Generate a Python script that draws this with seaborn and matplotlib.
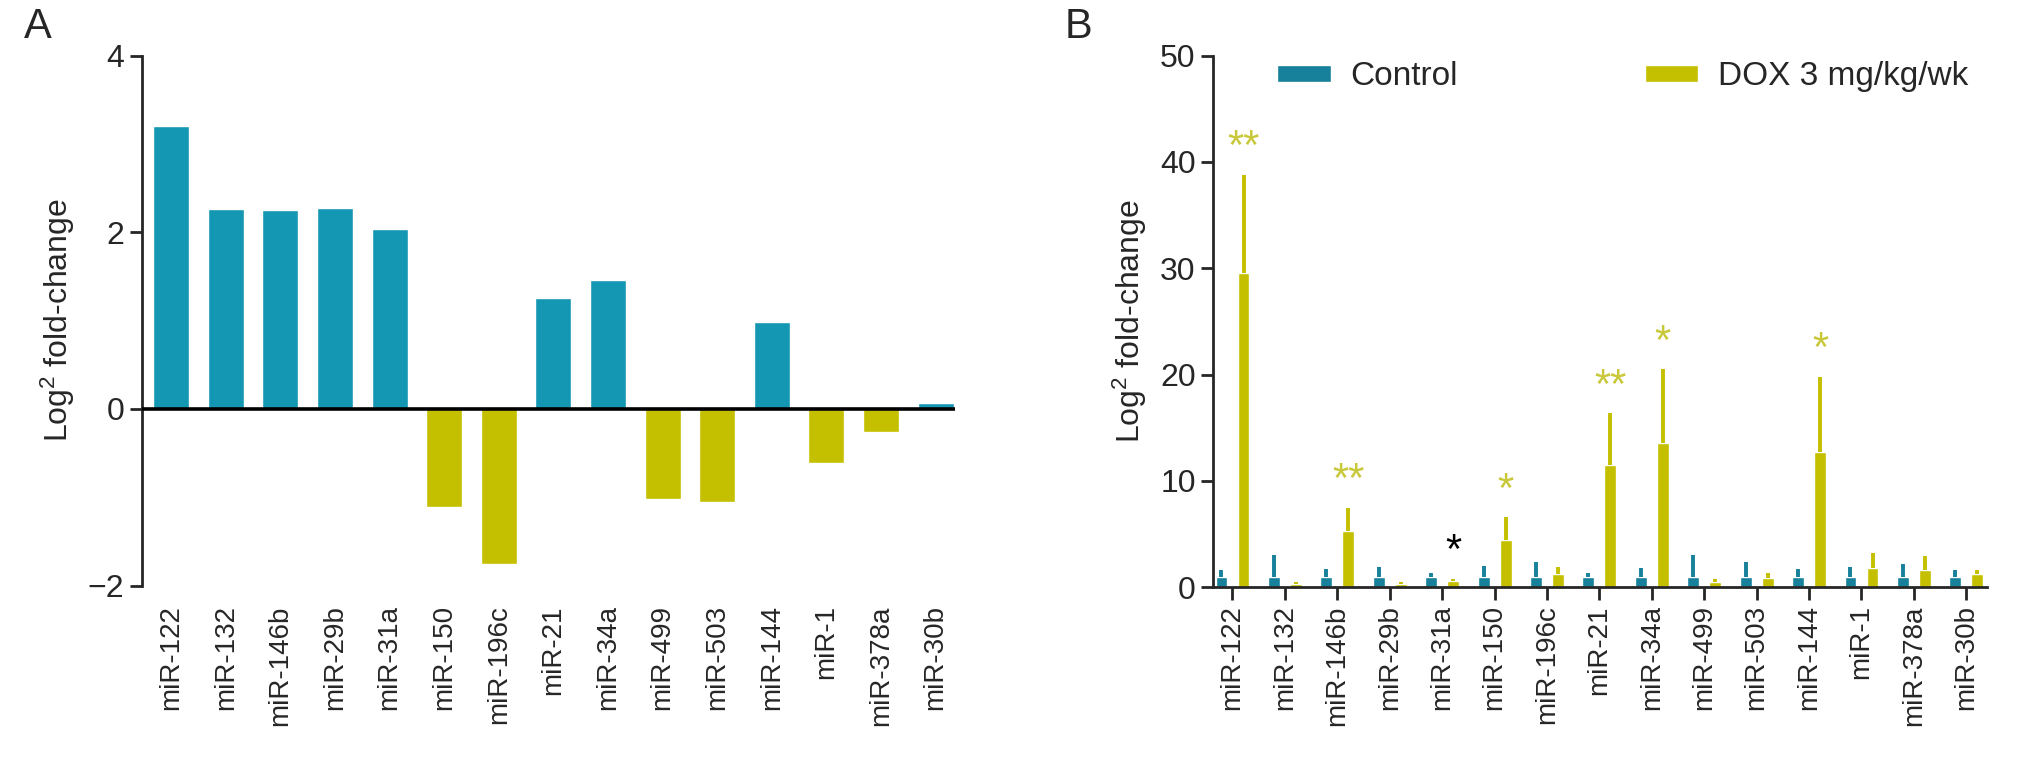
import pandas as pd
import matplotlib
matplotlib.use("Agg")
import matplotlib.pyplot as plt
import seaborn as sns

# miRNA names (same order in both panels)
mirnas = ['miR-122', 'miR-132', 'miR-146b', 'miR-29b', 'miR-31a', 'miR-150',
          'miR-196c', 'miR-21', 'miR-34a', 'miR-499', 'miR-503', 'miR-144',
          'miR-1', 'miR-378a', 'miR-30b']

# Panel A: log2 fold-change
log2fc = [3.20, 2.26, 2.25, 2.27, 2.04, -1.11, -1.75, 1.26, 1.46, -1.02,
          -1.05, 0.98, -0.61, -0.26, 0.07]

# Panel B: means and upper error (SD) per group
ctrl_mean = [1.0] * 15
ctrl_err = [0.6, 2.0, 0.7, 0.9, 0.3, 1.0, 1.4, 0.3, 0.8, 2.0, 1.4, 0.7, 0.9, 1.2, 0.6]
dox_mean = [29.6, 0.3, 5.3, 0.3, 0.6, 4.4, 1.2, 11.5, 13.6, 0.5, 0.9, 12.7, 1.8, 1.6, 1.2]
dox_err = [9.2, 0.2, 2.2, 0.2, 0.2, 2.2, 0.7, 4.9, 6.9, 0.3, 0.4, 7.1, 1.4, 1.3, 0.4]
stars = ['**', '', '**', '', '*', '*', '', '**', '*', '', '', '*', '', '', '']
star_black = ['miR-31a']

teal = '#1497b2'
ctrl_col = '#17809a'
olive = '#c4c000'
star_col = '#c8c83a'

sns.set_style('ticks')
plt.rcParams['font.family'] = ['Liberation Sans', 'DejaVu Sans']
plt.rcParams['mathtext.default'] = 'regular'
plt.rcParams['axes.linewidth'] = 2.0
FS = 20      # x tick labels
FS_Y = 23    # y ticks and axis label
FS_LEG = 24

fig = plt.figure(figsize=(20.32, 7.83), dpi=100)
axA = fig.add_axes([0.0698, 0.252, 0.400, 0.677])
axB = fig.add_axes([0.597, 0.250, 0.381, 0.679])

# ---- Panel A ----
dfa = pd.DataFrame({'miRNA': mirnas, 'fc': log2fc})
dfa['dir'] = ['up' if v > 0 else 'down' for v in dfa['fc']]
sns.barplot(data=dfa, x='miRNA', y='fc', hue='dir', order=mirnas,
            palette={'up': teal, 'down': olive}, dodge=False, width=0.66,
            saturation=1, legend=False, ax=axA)
axA.set_xlim(-0.54, 14.35)
axA.set_ylim(-2, 4)
axA.set_yticks([-2, 0, 2, 4])
axA.axhline(0, color='black', lw=2.6, zorder=5)
for s in ['top', 'right', 'bottom']:
    axA.spines[s].set_visible(False)
axA.tick_params(axis='x', length=0, pad=14, labelsize=FS, labelrotation=90)
axA.tick_params(axis='y', length=9, width=2.0, labelsize=FS_Y)
axA.set_xlabel('')
axA.set_ylabel('Log$^2$ fold-change', fontsize=FS_Y, labelpad=8)

# ---- Panel B ----
dfb = pd.DataFrame({
    'miRNA': mirnas * 2,
    'group': ['Control'] * 15 + ['DOX 3 mg/kg/wk'] * 15,
    'value': ctrl_mean + dox_mean,
    'err': ctrl_err + dox_err,
})
sns.barplot(data=dfb, x='miRNA', y='value', hue='group', order=mirnas,
            palette=[ctrl_col, olive], width=0.84, gap=0.46, errorbar=None,
            saturation=1, ax=axB)
for cont, errs, col in zip(axB.containers, [ctrl_err, dox_err], [ctrl_col, olive]):
    xs = [p.get_x() + p.get_width() / 2 for p in cont.patches]
    ys = [p.get_height() for p in cont.patches]
    axB.errorbar(xs, ys, yerr=[[0] * len(errs), errs], fmt='none',
                 ecolor=col, elinewidth=2.8, capsize=0, zorder=3)

dox_bars = axB.containers[1].patches
for name, p, m, e, s in zip(mirnas, dox_bars, dox_mean, dox_err, stars):
    if not s:
        continue
    c = 'black' if name in star_black else star_col
    axB.text(p.get_x() + p.get_width() / 2, m + e + 0.6, s, ha='center',
             va='bottom', fontsize=30, color=c)

axB.set_xlim(-0.37, 14.4)
axB.set_ylim(0, 50)
axB.set_yticks(range(0, 51, 10))
sns.despine(ax=axB)
axB.tick_params(axis='x', length=9, width=2.0, pad=4, labelsize=FS, labelrotation=90)
axB.tick_params(axis='y', length=9, width=2.0, labelsize=FS_Y)
axB.set_xlabel('')
axB.set_ylabel('Log$^2$ fold-change', fontsize=FS_Y, labelpad=8)
leg = axB.legend(loc='center left', bbox_to_anchor=(0.083, 0.96), ncol=2,
                 frameon=False, fontsize=FS_LEG, handlelength=1.6, handleheight=0.4,
                 columnspacing=5.6, borderaxespad=0, borderpad=0, handletextpad=0.6)

fig.text(0.012, 0.965, 'A', fontsize=30, va='center')
fig.text(0.524, 0.965, 'B', fontsize=30, va='center')

fig.savefig('out.png', dpi=100)
